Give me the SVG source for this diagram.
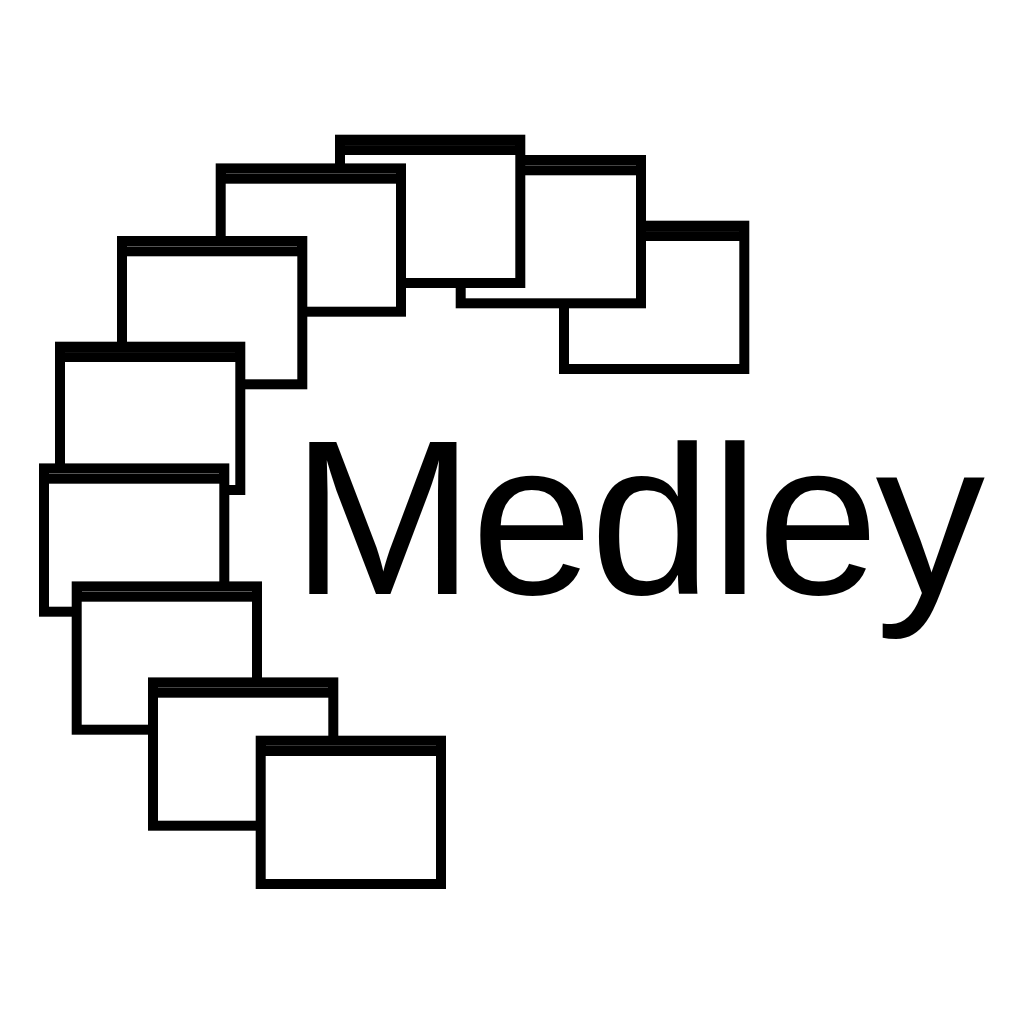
<svg xmlns="http://www.w3.org/2000/svg" xmlns:xlink="http://www.w3.org/1999/xlink" width="1024" height="1024" viewBox="0 0 1024 1024">
<style>
.outer{fill:#000}
.inner{fill:#fff}
.h1{fill:#111}
.h3{fill:#333}
.h4{fill:#444}
.h5{fill:#555}
.label{font-family:"Liberation Sans",Arial,sans-serif;font-size:219px;fill:#000}
</style>
<defs>
<g id="win">
<rect class="outer" width="190.3" height="153.3"/>
<rect class="inner" x="10" y="20.3" width="170.3" height="123"/>
</g>
<clipPath id="capline"><rect x="0" y="440.3" width="1024" height="300"/></clipPath>
</defs>
<rect width="1024" height="1024" fill="#fff"/>
<g id="w1"><use xlink:href="#win" href="#win" x="559" y="220.7"/><rect class="h1" x="569" y="231" width="170" height="1"/></g>
<g id="w2"><use xlink:href="#win" href="#win" x="455.7" y="155"/><rect class="h4" x="466" y="165" width="170" height="1"/></g>
<g id="w3"><use xlink:href="#win" href="#win" x="335" y="134.7"/><rect class="h1" x="345" y="145" width="170" height="1"/></g>
<g id="w4"><use xlink:href="#win" href="#win" x="215.7" y="163.4"/><rect class="h4" x="226" y="173" width="170" height="1"/></g>
<g id="w5"><use xlink:href="#win" href="#win" x="117" y="236"/><rect class="h5" x="127" y="246" width="170" height="1"/></g>
<g id="w6"><use xlink:href="#win" href="#win" x="55" y="341.7"/><rect class="h1" x="65" y="352" width="170" height="1"/></g>
<g id="w7"><use xlink:href="#win" href="#win" x="39" y="463.4"/><rect class="h5" x="49" y="473" width="170" height="1"/></g>
<g id="w8"><use xlink:href="#win" href="#win" x="71.7" y="581.4"/><rect class="h5" x="82" y="591" width="170" height="1"/></g>
<g id="w9"><use xlink:href="#win" href="#win" x="148" y="677.4"/><rect class="h4" x="158" y="687" width="170" height="1"/></g>
<g id="w10"><use xlink:href="#win" href="#win" x="255.7" y="735.7"/><rect class="h3" x="266" y="745" width="170" height="1"/></g>
<g id="connectors"></g>
<text id="title" class="label" y="594.3" clip-path="url(#capline)"><tspan x="291.3" font-size="220">M</tspan><tspan x="471">e</tspan><tspan x="589.7">d</tspan><tspan x="710.6">l</tspan><tspan x="757">e</tspan><tspan x="875.5">y</tspan></text>
</svg>
